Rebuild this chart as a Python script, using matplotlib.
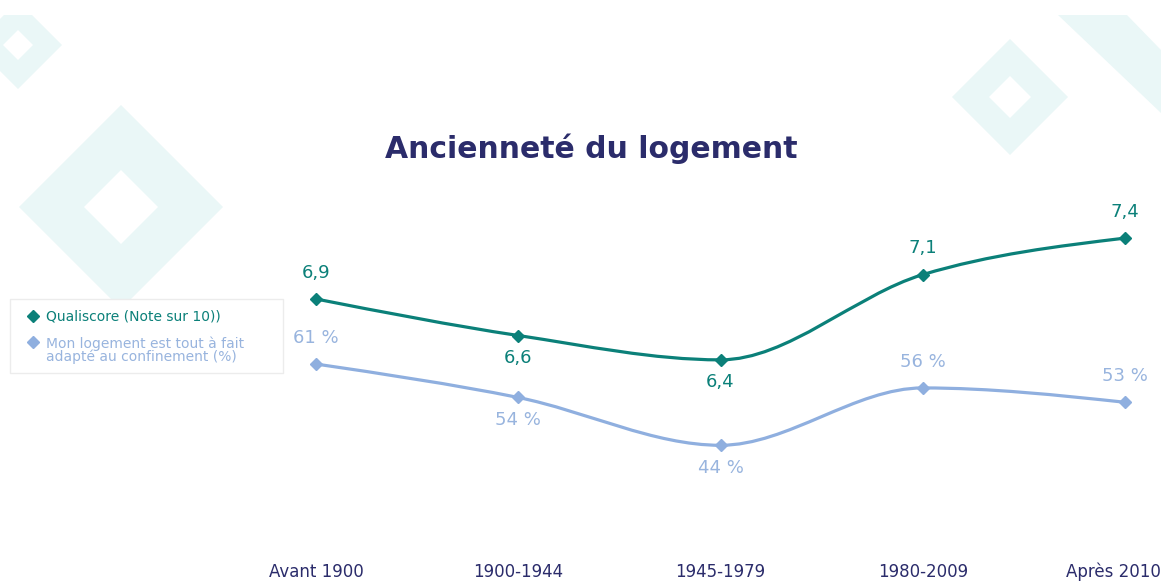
import numpy as np
import matplotlib
matplotlib.use("Agg")
import matplotlib.pyplot as plt
import matplotlib.transforms as mtransforms
from matplotlib.path import Path
from matplotlib.patches import PathPatch, Polygon, Rectangle
from matplotlib.lines import Line2D

plt.rcParams['font.family'] = ['DejaVu Sans']

# data
periods = ['Avant 1900', '1900-1944', '1945-1979', '1980-2009', 'Après 2010']
qualiscore = [6.9, 6.6, 6.4, 7.1, 7.4]
adapte_pct = [61, 54, 44, 56, 53]
label_side = ['above', 'below', 'below', 'above', 'above']

title = 'Ancienneté du logement'
legend_labels = ['Qualiscore (Note sur 10))',
                 'Mon logement est tout à fait\nadapté au confinement (%)']

TEAL = '#0B8079'
BLUE = '#8FAFDF'
BLUE_TXT = '#98B4DE'
NAVY = '#2B2C6B'
DECO = '#EAF7F7'

W, H = 1161, 584


def fx(px):
    return px / W


def fy(py):
    return 1 - py / H


def monotone_path(x, y):
    """Bezier path through the points (monotone cubic, like d3 curveMonotoneX)."""
    x = np.asarray(x, float)
    y = np.asarray(y, float)
    h = np.diff(x)
    s = np.diff(y) / h
    n = len(x)
    t = np.zeros(n)
    for i in range(1, n - 1):
        p = (s[i - 1] * h[i] + s[i] * h[i - 1]) / (h[i - 1] + h[i])
        t[i] = (np.sign(s[i - 1]) + np.sign(s[i])) * min(abs(s[i - 1]), abs(s[i]), 0.5 * abs(p))
    t[0] = (3 * s[0] - t[1]) / 2
    t[-1] = (3 * s[-1] - t[-2]) / 2
    verts = [(x[0], y[0])]
    codes = [Path.MOVETO]
    for i in range(n - 1):
        d = h[i] / 3
        verts += [(x[i] + d, y[i] + d * t[i]),
                  (x[i + 1] - d, y[i + 1] - d * t[i + 1]),
                  (x[i + 1], y[i + 1])]
        codes += [Path.CURVE4] * 3
    return Path(verts, codes)


fig = plt.figure(figsize=(W / 100, H / 100), dpi=100)

# background decoration (hollow diamonds)
for cx, cy, r_out, r_in in [(18, 45, 44, 15), (121, 207, 102, 37), (1010, 97, 58, 21)]:
    for r, col, z in [(r_out, DECO, -3), (r_in, 'white', -2)]:
        pts = [(fx(cx - r), fy(cy)), (fx(cx), fy(cy - r)), (fx(cx + r), fy(cy)), (fx(cx), fy(cy + r))]
        fig.add_artist(Polygon(pts, closed=True, facecolor=col, edgecolor='none',
                               transform=fig.transFigure, zorder=z))
band = [(1058, 15), (1127, 15), (1161, 50), (1161, 113)]
fig.add_artist(Polygon([(fx(a), fy(b)) for a, b in band], closed=True, facecolor=DECO,
                       edgecolor='none', transform=fig.transFigure, zorder=-3))
fig.add_artist(Rectangle((0, fy(15)), 1, 1 - fy(15), facecolor='white', edgecolor='none',
                         transform=fig.transFigure, zorder=-1))

# axes
left, right, top, bottom = 290, 1150, 200, 560
ax = fig.add_axes([fx(left), fy(bottom), fx(right) - fx(left), fy(top) - fy(bottom)])
ax2 = ax.twinx()
xs = np.arange(len(periods))
ax.set_xlim(-0.1286, 4.1236)
ax.set_ylim(4.756, 7.713)
ax2.set_ylim(20.0, 95.32)

for a, vals, col, txtcol, fmt in [(ax, qualiscore, TEAL, TEAL, lambda v: f"{v:.1f}".replace('.', ',')),
                                  (ax2, adapte_pct, BLUE, BLUE_TXT, lambda v: f"{v} %")]:
    a.add_patch(PathPatch(monotone_path(xs, vals), facecolor='none', edgecolor=col,
                          lw=2.3, capstyle='round', clip_on=False))
    a.plot(xs, vals, linestyle='none', marker='D', ms=6.5, color=col, clip_on=False)
    for x, v, side in zip(xs, vals, label_side):
        off = 19 if side == 'above' else -16
        a.annotate(fmt(v), (x, v), xytext=(0, off), textcoords='offset points',
                   ha='center', va='center', fontsize=13, color=txtcol)

for a in (ax, ax2):
    a.patch.set_visible(False)
    for sp in a.spines.values():
        sp.set_visible(False)
    a.set_yticks([])
ax.set_xticks(xs)
ax.set_xticklabels(periods, fontsize=12, color=NAVY)
ax.tick_params(axis='x', length=0, pad=12.5)
for lab in ax.get_xticklabels():
    lab.set_va('baseline')
# last label sits against the right edge of the picture
last = ax.get_xticklabels()[-1]
last.set_transform(last.get_transform() + mtransforms.ScaledTranslation(-12 / 100, 0, fig.dpi_scale_trans))

# title
fig.text(fx(591), fy(158), title, ha='center', va='baseline', fontsize=21.5,
         fontweight='bold', color=NAVY)

# legend (drawn by hand, framed box)
fig.add_artist(Rectangle((fx(10), fy(373)), fx(283) - fx(10), fy(299) - fy(373),
                         facecolor='white', edgecolor='#ECECEC', lw=1,
                         transform=fig.transFigure, zorder=4))
for (my, ty), lab, col, tcol in zip([(316, 316), (342, 350)], legend_labels,
                                    [TEAL, BLUE], [TEAL, BLUE_TXT]):
    fig.add_artist(Line2D([fx(33)], [fy(my)], marker='D', ms=6, color=col,
                          linestyle='none', transform=fig.transFigure, zorder=5))
    fig.text(fx(46), fy(ty), lab, ha='left', va='center', fontsize=10, color=tcol,
             linespacing=0.9, zorder=5)

fig.savefig('out.png', dpi=100)
